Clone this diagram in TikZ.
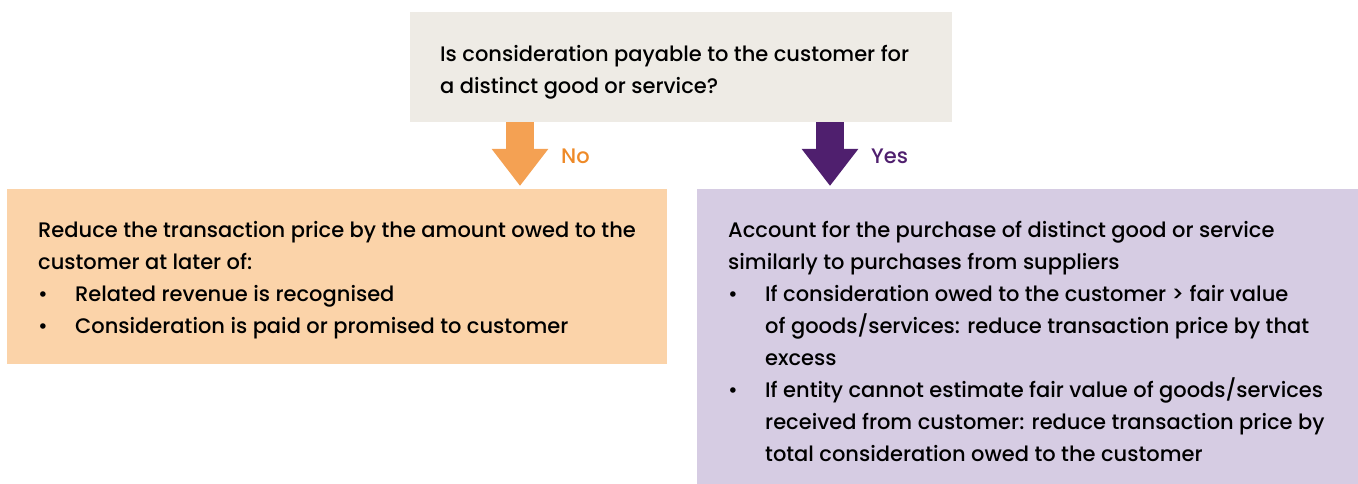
\documentclass[tikz,border=0pt]{standalone}
\usepackage{fontspec}
\setmainfont{Poppins Medium}
\usetikzlibrary{arrows.meta,calc}
\definecolor{qbg}{HTML}{EEEBE5}
\definecolor{noarrow}{HTML}{F4A153}
\definecolor{notext}{HTML}{EE8A28}
\definecolor{nobg}{HTML}{FBD3A9}
\definecolor{yescol}{HTML}{4F1F6E}
\definecolor{yesbg}{HTML}{D6CCE3}
\newcommand{\bul}{\makebox[37pt][l]{•}}
\newcommand{\ind}{\hspace*{37pt}}
\begin{document}
\begin{tikzpicture}[x=1pt,y=-1pt,
  panel/.style={anchor=north west,inner sep=0pt,draw=none},
  boxtext/.style={anchor=base west,align=left,inner sep=0pt,
    font=\fontsize{21}{32}\selectfont,text=black},
  bigarrow/.style={line width=28pt,shorten >=3pt,-{Triangle[length=37pt,width=54pt]}},
  lbl/.style={anchor=base west,inner sep=0pt,font=\fontsize{21}{24}\selectfont}]
\useasboundingbox (0,0) rectangle (1358,484);
% boxes
\node[panel,fill=qbg,minimum width=542pt,minimum height=110pt] (qbox) at (410,12) {};
\node[panel,fill=nobg,minimum width=660pt,minimum height=175pt] (nobox) at (7,189) {};
\node[panel,fill=yesbg,minimum width=661pt,minimum height=295pt] (yesbox) at (697,189) {};
\coordinate (noX) at (520,0);
\coordinate (yesX) at (830,0);
% arrows
\draw[bigarrow,draw=noarrow,fill=noarrow] (qbox.south -| noX) -- (nobox.north -| noX);
\draw[bigarrow,draw=yescol,fill=yescol] (qbox.south -| yesX) -- (yesbox.north -| yesX);
\node[lbl,text=notext] (no) at (561,164) {No};
\node[lbl,text=yescol] (yes) at (871,164) {Yes};
% texts (anchor = baseline of the last line)
\node[boxtext] (qt) at (440,94) {Is consideration payable to the customer for\\a distinct good or service?};
\node[boxtext] (lt) at (38,333) {Reduce the transaction price by the amount owed to the\\customer at later of:\\\bul Related revenue is recognised\\\bul Consideration is paid or promised to customer};
\node[boxtext] (rt) at (728,461) {Account for the purchase of distinct good or service\\similarly to purchases from suppliers\\\bul If consideration owed to the customer > fair value\\\ind of goods/services: reduce transaction price by that\\\ind excess\\\bul If entity cannot estimate fair value of goods/services\\\ind received from customer: reduce transaction price by\\\ind total consideration owed to the customer};
\end{tikzpicture}
\end{document}
